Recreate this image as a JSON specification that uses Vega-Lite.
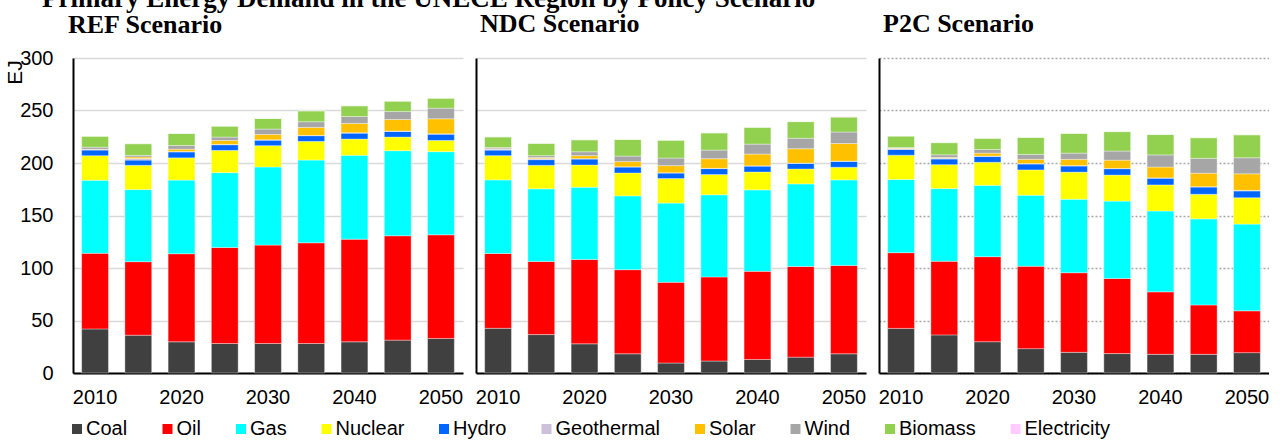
{
  "$schema": "https://vega.github.io/schema/vega-lite/v6.json",
  "background": "white",
  "padding": {"left": 4, "top": -16, "right": 0, "bottom": 0},
  "title": {"text": "Primary Energy Demand in the UNECE Region by Policy Scenario", "anchor": "start", "frame": "group", "font": "Liberation Serif", "fontSize": 27, "fontWeight": "bold", "color": "#000000", "offset": -2, "dx": -31},
  "data": {"values": [
    {"scenario": "REF", "year": "2010", "Coal": 42, "Oil": 72, "Gas": 69.6, "Nuclear": 23.4, "Hydro": 5.3, "Geothermal": 0.5, "Solar": 0.3, "Wind": 2, "Biomass": 10.4, "Electricity": 0},
    {"scenario": "REF", "year": "2015", "Coal": 36, "Oil": 70, "Gas": 68.7, "Nuclear": 23.1, "Hydro": 5, "Geothermal": 1.5, "Solar": 1.4, "Wind": 1.6, "Biomass": 11.1, "Electricity": 0},
    {"scenario": "REF", "year": "2020", "Coal": 29.7, "Oil": 83.9, "Gas": 70.1, "Nuclear": 21.2, "Hydro": 5.7, "Geothermal": 0.3, "Solar": 2.3, "Wind": 3.5, "Biomass": 11.4, "Electricity": 0},
    {"scenario": "REF", "year": "2025", "Coal": 28.1, "Oil": 91.5, "Gas": 71.2, "Nuclear": 21.2, "Hydro": 5.4, "Geothermal": 0.3, "Solar": 3.8, "Wind": 3.2, "Biomass": 10.4, "Electricity": 0},
    {"scenario": "REF", "year": "2030", "Coal": 28.1, "Oil": 93.7, "Gas": 74.4, "Nuclear": 20.3, "Hydro": 5.3, "Geothermal": 0.3, "Solar": 5.1, "Wind": 5.1, "Biomass": 10.1, "Electricity": 0},
    {"scenario": "REF", "year": "2035", "Coal": 28.1, "Oil": 95.9, "Gas": 78.8, "Nuclear": 17.8, "Hydro": 5.4, "Geothermal": 0.3, "Solar": 7.6, "Wind": 5.4, "Biomass": 10.4, "Electricity": 0},
    {"scenario": "REF", "year": "2040", "Coal": 29.7, "Oil": 97.8, "Gas": 79.8, "Nuclear": 15.5, "Hydro": 5.7, "Geothermal": 0.3, "Solar": 8.9, "Wind": 6.6, "Biomass": 10.2, "Electricity": 0},
    {"scenario": "REF", "year": "2045", "Coal": 31.3, "Oil": 99.4, "Gas": 81, "Nuclear": 13, "Hydro": 5.4, "Geothermal": 0.3, "Solar": 11, "Wind": 7.6, "Biomass": 9.9, "Electricity": 0},
    {"scenario": "REF", "year": "2050", "Coal": 32.9, "Oil": 98.7, "Gas": 79.2, "Nuclear": 10.7, "Hydro": 6, "Geothermal": 0.3, "Solar": 14.3, "Wind": 10.1, "Biomass": 9.5, "Electricity": 0},
    {"scenario": "NDC", "year": "2010", "Coal": 42.6, "Oil": 71.2, "Gas": 70.1, "Nuclear": 23.1, "Hydro": 5.3, "Geothermal": 1, "Solar": 0.3, "Wind": 1.2, "Biomass": 10.1, "Electricity": 0},
    {"scenario": "NDC", "year": "2015", "Coal": 36.6, "Oil": 69.7, "Gas": 69.1, "Nuclear": 22.4, "Hydro": 5.4, "Geothermal": 1, "Solar": 1, "Wind": 1.8, "Biomass": 11.7, "Electricity": 0},
    {"scenario": "NDC", "year": "2020", "Coal": 27.8, "Oil": 80.4, "Gas": 68.8, "Nuclear": 21.1, "Hydro": 5.7, "Geothermal": 0.3, "Solar": 2.9, "Wind": 3.7, "Biomass": 11.4, "Electricity": 0},
    {"scenario": "NDC", "year": "2025", "Coal": 18.3, "Oil": 80.1, "Gas": 70.3, "Nuclear": 21.8, "Hydro": 5.7, "Geothermal": 0.2, "Solar": 4.9, "Wind": 5.3, "Biomass": 15.8, "Electricity": 0},
    {"scenario": "NDC", "year": "2030", "Coal": 9.5, "Oil": 76.9, "Gas": 75.4, "Nuclear": 23.4, "Hydro": 5.3, "Geothermal": 0.2, "Solar": 6.8, "Wind": 7.2, "Biomass": 17, "Electricity": 0},
    {"scenario": "NDC", "year": "2035", "Coal": 11.4, "Oil": 80.1, "Gas": 78.2, "Nuclear": 19.3, "Hydro": 5.7, "Geothermal": 0.2, "Solar": 9.2, "Wind": 8.2, "Biomass": 16.4, "Electricity": 0},
    {"scenario": "NDC", "year": "2040", "Coal": 12.9, "Oil": 83.9, "Gas": 77.6, "Nuclear": 17, "Hydro": 5.7, "Geothermal": 0.2, "Solar": 11.2, "Wind": 9.5, "Biomass": 16, "Electricity": 0},
    {"scenario": "NDC", "year": "2045", "Coal": 15.1, "Oil": 86.4, "Gas": 78.6, "Nuclear": 14.2, "Hydro": 5.4, "Geothermal": 0.2, "Solar": 13.7, "Wind": 10, "Biomass": 15.8, "Electricity": 0},
    {"scenario": "NDC", "year": "2050", "Coal": 18.3, "Oil": 84.2, "Gas": 81.4, "Nuclear": 12, "Hydro": 5.7, "Geothermal": 0.2, "Solar": 16.8, "Wind": 10.9, "Biomass": 14.2, "Electricity": 0.5},
    {"scenario": "P2C", "year": "2010", "Coal": 42.5, "Oil": 72.1, "Gas": 69.7, "Nuclear": 23.2, "Hydro": 5.4, "Geothermal": 1, "Solar": 0.3, "Wind": 0.5, "Biomass": 10.9, "Electricity": 0},
    {"scenario": "P2C", "year": "2015", "Coal": 36.3, "Oil": 70.1, "Gas": 69.2, "Nuclear": 22.8, "Hydro": 5.4, "Geothermal": 0.8, "Solar": 0.7, "Wind": 2.5, "Biomass": 11.6, "Electricity": 0},
    {"scenario": "P2C", "year": "2020", "Coal": 29.8, "Oil": 81, "Gas": 67.9, "Nuclear": 22, "Hydro": 5.6, "Geothermal": 0.3, "Solar": 2.8, "Wind": 3.5, "Biomass": 10.6, "Electricity": 0},
    {"scenario": "P2C", "year": "2025", "Coal": 23.2, "Oil": 78.5, "Gas": 67.6, "Nuclear": 24.1, "Hydro": 5.7, "Geothermal": 0.3, "Solar": 4.1, "Wind": 4.7, "Biomass": 16.2, "Electricity": 0},
    {"scenario": "P2C", "year": "2030", "Coal": 19.7, "Oil": 75.8, "Gas": 70, "Nuclear": 25.8, "Hydro": 5.9, "Geothermal": 0.3, "Solar": 6, "Wind": 5.9, "Biomass": 18.8, "Electricity": 0},
    {"scenario": "P2C", "year": "2035", "Coal": 18.5, "Oil": 71.6, "Gas": 73.6, "Nuclear": 24.8, "Hydro": 6.1, "Geothermal": 0.2, "Solar": 7.9, "Wind": 8.7, "Biomass": 18.5, "Electricity": 0},
    {"scenario": "P2C", "year": "2040", "Coal": 17.8, "Oil": 59.5, "Gas": 77, "Nuclear": 24.8, "Hydro": 6.5, "Geothermal": 0.2, "Solar": 10.4, "Wind": 11.5, "Biomass": 19.4, "Electricity": 0},
    {"scenario": "P2C", "year": "2045", "Coal": 17.8, "Oil": 47, "Gas": 82, "Nuclear": 23.4, "Hydro": 7, "Geothermal": 0.2, "Solar": 12.9, "Wind": 14.1, "Biomass": 19.7, "Electricity": 0},
    {"scenario": "P2C", "year": "2050", "Coal": 19.4, "Oil": 39.8, "Gas": 82.6, "Nuclear": 25.1, "Hydro": 6.5, "Geothermal": 0.6, "Solar": 15.7, "Wind": 15.3, "Biomass": 21.9, "Electricity": 0}
  ]},
  "spacing": 12,
  "hconcat": [
    {
      "width": 390, "height": 315,
      "title": {"text": "REF Scenario", "dx": -5, "offset": 10.5},
      "transform": [
        {"filter": "datum.scenario === 'REF'"},
        {"fold": ["Coal", "Oil", "Gas", "Nuclear", "Hydro", "Geothermal", "Solar", "Wind", "Biomass", "Electricity"], "as": ["fuel", "value"]},
        {"calculate": "indexof(['Coal','Oil','Gas','Nuclear','Hydro','Geothermal','Solar','Wind','Biomass','Electricity'], datum.fuel)", "as": "stack_rank"}
      ],
      "mark": {"type": "bar", "stroke": "#ffffff", "strokeWidth": 0.6, "strokeOpacity": 0.6},
      "encoding": {
        "x": {"field": "year", "type": "ordinal", "title": null, "scale": {"paddingInner": 0.38, "paddingOuter": 0.2}, "axis": {"values": ["2010", "2020", "2030", "2040", "2050"]}},
        "y": {"field": "value", "type": "quantitative", "stack": "zero", "scale": {"domain": [0, 300], "nice": false}, "axis": {"values": [0, 50, 100, 150, 200, 250, 300], "title": "EJ", "titleAngle": 270, "titleX": -58, "titleY": 14, "titleAlign": "center", "titleBaseline": "middle", "titleFontSize": 21, "labelPadding": 20, "gridColor": "#d9d9d9"}},
        "order": {"field": "stack_rank", "type": "quantitative", "sort": "ascending"},
        "color": {"field": "fuel", "type": "nominal", "sort": ["Coal", "Oil", "Gas", "Nuclear", "Hydro", "Geothermal", "Solar", "Wind", "Biomass", "Electricity"],
          "scale": {"domain": ["Coal", "Oil", "Gas", "Nuclear", "Hydro", "Geothermal", "Solar", "Wind", "Biomass", "Electricity"], "range": ["#404040", "#ff0000", "#00ffff", "#ffff00", "#0066ff", "#ccc0da", "#ffc000", "#a6a6a6", "#92d050", "#ffccff"]}}
      }
    },
    {
      "width": 390, "height": 315,
      "title": {"text": "NDC Scenario", "dx": 4, "offset": 21.5},
      "transform": [
        {"filter": "datum.scenario === 'NDC'"},
        {"fold": ["Coal", "Oil", "Gas", "Nuclear", "Hydro", "Geothermal", "Solar", "Wind", "Biomass", "Electricity"], "as": ["fuel", "value"]},
        {"calculate": "indexof(['Coal','Oil','Gas','Nuclear','Hydro','Geothermal','Solar','Wind','Biomass','Electricity'], datum.fuel)", "as": "stack_rank"}
      ],
      "mark": {"type": "bar", "stroke": "#ffffff", "strokeWidth": 0.6, "strokeOpacity": 0.6},
      "encoding": {
        "x": {"field": "year", "type": "ordinal", "title": null, "scale": {"paddingInner": 0.38, "paddingOuter": 0.2}, "axis": {"values": ["2010", "2020", "2030", "2040", "2050"]}},
        "y": {"field": "value", "type": "quantitative", "stack": "zero", "scale": {"domain": [0, 300], "nice": false}, "axis": {"values": [0, 50, 100, 150, 200, 250, 300], "title": null, "labels": false, "gridColor": "#d9d9d9"}},
        "order": {"field": "stack_rank", "type": "quantitative", "sort": "ascending"},
        "color": {"field": "fuel", "type": "nominal", "sort": ["Coal", "Oil", "Gas", "Nuclear", "Hydro", "Geothermal", "Solar", "Wind", "Biomass", "Electricity"],
          "scale": {"domain": ["Coal", "Oil", "Gas", "Nuclear", "Hydro", "Geothermal", "Solar", "Wind", "Biomass", "Electricity"], "range": ["#404040", "#ff0000", "#00ffff", "#ffff00", "#0066ff", "#ccc0da", "#ffc000", "#a6a6a6", "#92d050", "#ffccff"]}}
      }
    },
    {
      "width": 390, "height": 315,
      "title": {"text": "P2C Scenario", "dx": 4, "offset": 21.5},
      "transform": [
        {"filter": "datum.scenario === 'P2C'"},
        {"fold": ["Coal", "Oil", "Gas", "Nuclear", "Hydro", "Geothermal", "Solar", "Wind", "Biomass", "Electricity"], "as": ["fuel", "value"]},
        {"calculate": "indexof(['Coal','Oil','Gas','Nuclear','Hydro','Geothermal','Solar','Wind','Biomass','Electricity'], datum.fuel)", "as": "stack_rank"}
      ],
      "mark": {"type": "bar", "stroke": "#ffffff", "strokeWidth": 0.6, "strokeOpacity": 0.6},
      "encoding": {
        "x": {"field": "year", "type": "ordinal", "title": null, "scale": {"paddingInner": 0.38, "paddingOuter": 0.2}, "axis": {"values": ["2010", "2020", "2030", "2040", "2050"]}},
        "y": {"field": "value", "type": "quantitative", "stack": "zero", "scale": {"domain": [0, 300], "nice": false}, "axis": {"values": [0, 50, 100, 150, 200, 250, 300], "title": null, "labels": false, "gridColor": "#a6a6a6", "gridDash": [2, 2]}},
        "order": {"field": "stack_rank", "type": "quantitative", "sort": "ascending"},
        "color": {"field": "fuel", "type": "nominal", "sort": ["Coal", "Oil", "Gas", "Nuclear", "Hydro", "Geothermal", "Solar", "Wind", "Biomass", "Electricity"],
          "scale": {"domain": ["Coal", "Oil", "Gas", "Nuclear", "Hydro", "Geothermal", "Solar", "Wind", "Biomass", "Electricity"], "range": ["#404040", "#ff0000", "#00ffff", "#ffff00", "#0066ff", "#ccc0da", "#ffc000", "#a6a6a6", "#92d050", "#ffccff"]}}
      }
    }
  ],
  "config": {
    "view": {"stroke": null},
    "font": "Liberation Sans",
    "axis": {"labelFont": "Liberation Sans", "labelFontSize": 20, "labelColor": "#000000", "titleFont": "Liberation Sans", "titleFontSize": 20, "titleFontWeight": "normal", "titleColor": "#000000", "ticks": false, "domainColor": "#000000", "domainWidth": 2, "gridWidth": 1.3},
    "axisX": {"grid": false, "labelAngle": 0, "labelPadding": 14},
    "axisY": {"grid": true},
    "title": {"font": "Liberation Serif", "fontSize": 26, "fontWeight": "bold", "color": "#000000", "anchor": "start", "frame": "group"},
    "legend": {"orient": "none", "legendX": -6, "legendY": 361, "direction": "horizontal", "title": null, "symbolType": "square", "symbolSize": 100, "symbolStrokeWidth": 0, "labelFont": "Liberation Sans", "labelFontSize": 20, "labelColor": "#000000", "columnPadding": 29.5, "labelOffset": -1, "padding": 0}
  }
}
